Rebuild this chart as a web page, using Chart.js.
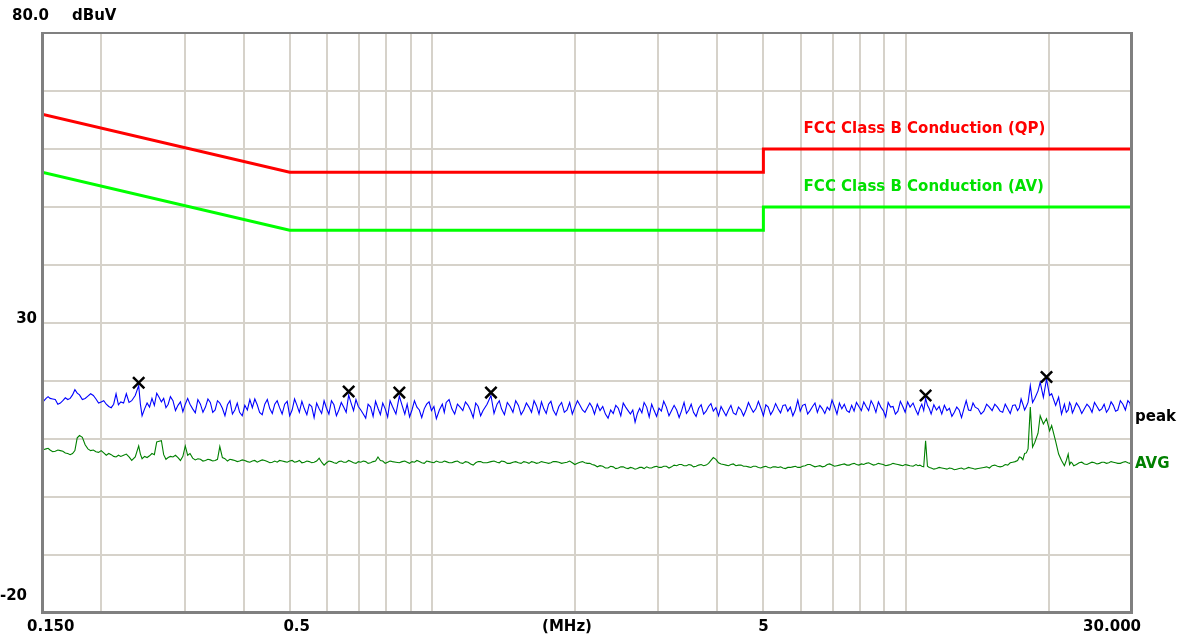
<!DOCTYPE html>
<html><head><meta charset="utf-8">
<script src="https://cdn.jsdelivr.net/npm/chart.js@4.4.1/dist/chart.umd.min.js"></script>
<style>html,body{margin:0;padding:0;background:#fff;}#wrap{width:1181px;height:639px;}</style>
</head><body><div id="wrap"><canvas id="c" width="1181" height="639"></canvas></div>
<script>
// ---- data (frequency in MHz, level in dBuV) ----
// main scan samples
const freqMHz = [
0.150,0.153,0.156,0.160,0.164,0.168,0.172,0.176,0.180,0.185,0.190,0.195,0.200,0.205,0.210,0.215,0.220,0.226,0.232,0.240,
0.244,0.250,0.256,0.262,0.268,0.274,0.280,0.287,0.294,0.301,0.308,0.316,0.324,0.332,0.340,0.348,0.356,0.365,0.374,0.383,
0.392,0.402,0.412,0.422,0.432,0.443,0.454,0.465,0.476,0.488,0.500,
0.512,0.524,0.537,0.550,0.563,0.577,0.591,0.605,0.620,0.635,0.650,0.666,0.682,0.698,0.715,0.732,0.750,0.768,0.786,0.805,
0.824,0.852,0.875,0.885,0.906,0.928,0.950,0.973,0.996,
1.02,1.05,1.07,1.10,1.13,1.16,1.19,1.22,1.25,1.28,1.33,1.37,1.40,1.44,1.48,1.52,1.56,1.60,1.64,1.68,1.72,
1.76,1.80,1.85,1.90,1.95,2.00,2.05,2.10,2.15,2.20,2.26,2.32,2.38,2.44,2.50,2.56,2.62,2.68,2.74,2.80,
2.87,2.94,3.01,3.08,3.16,3.24,3.32,3.40,3.48,3.56,3.65,3.74,3.83,3.92,4.02,4.12,4.22,4.32,4.43,4.54,
4.65,4.76,4.88,5.00,5.12,5.24,5.37,5.50,5.63,5.77,5.91,6.05,6.20,6.35,6.50,6.66,6.82,6.98,7.15,7.32,
7.50,7.68,7.86,8.05,8.24,8.44,8.64,8.85,9.06,9.28,9.50,9.73,9.96,
10.2,10.5,10.7,10.9,11.0,11.1,11.3,11.6,11.9,12.2,12.5,12.8,13.1,13.4,13.7,14.0,14.4,14.8,15.2,15.6,
16.0,16.4,16.8,17.2,17.5,17.8,18.1,18.3,18.5,18.7,19.0,19.2,19.5,19.8,20.1,20.3,20.7,21.0,21.3,21.6,
22.0,22.3,22.6,23.2,23.8,24.4,25.0,25.6,26.2,26.8,27.4,28.0,28.7,29.4,30.0
];
const peakDbuV = [
17.0,17.0,17.0,16.8,16.2,17.1,17.0,18.5,17.6,17.0,17.8,16.9,16.4,16.0,15.4,17.8,16.4,17.8,16.6,19.2,
14.0,16.2,17.0,17.9,16.4,15.4,17.3,14.9,16.4,16.0,16.0,14.5,16.0,15.5,16.3,15.0,16.2,14.0,16.6,15.0,
14.6,15.8,16.8,16.9,14.6,16.0,15.2,16.0,15.4,16.0,14.0,
16.9,14.6,15.2,16.0,13.7,15.2,16.6,14.3,15.9,15.0,15.5,17.6,14.9,15.6,14.3,16.0,13.9,15.3,16.2,13.8,
15.6,17.4,14.3,16.0,15.0,15.5,13.7,16.0,14.9,
13.5,16.0,16.3,15.2,16.0,14.9,15.8,13.7,15.6,14.9,17.5,16.0,15.2,16.3,14.6,15.8,15.0,15.5,16.6,14.3,15.2,
16.0,15.0,15.6,14.6,16.3,15.5,15.8,14.6,16.2,14.3,14.9,14.3,15.0,15.8,14.0,15.5,14.3,12.9,15.3,16.3,
13.8,14.9,15.3,16.5,14.0,15.8,13.7,16.3,15.0,14.6,15.3,14.3,15.6,14.8,14.0,14.8,15.0,14.5,15.5,14.0,
16.3,14.6,16.5,14.0,15.5,14.9,15.2,15.8,14.8,14.0,16.7,15.8,14.3,15.6,14.6,15.2,15.5,16.7,14.3,15.2,
14.9,15.8,16.3,14.9,15.6,16.6,14.6,15.5,13.8,15.5,14.3,16.5,14.6,
15.5,14.9,15.3,14.9,17.0,15.8,14.3,15.0,14.3,14.9,13.9,15.5,13.7,16.6,14.9,15.5,14.3,16.0,14.9,15.5,
14.6,15.2,15.8,14.9,16.9,15.0,16.3,19.2,16.3,17.0,18.3,19.8,17.2,20.3,17.5,17.8,15.8,17.2,14.3,16.0,
15.0,15.8,15.0,15.5,15.2,15.5,16.3,14.9,16.0,15.2,15.8,15.0,16.0,16.6,13.7
];
const avgDbuV = [
8.3,8.3,8.1,7.9,8.0,7.6,7.3,8.0,10.6,9.0,8.0,7.8,8.0,7.2,7.3,6.9,7.0,7.4,6.3,8.8,
6.6,6.8,7.5,9.5,9.7,6.5,7.0,7.2,6.3,8.8,7.5,6.4,6.5,6.3,6.4,6.3,8.7,6.6,6.5,6.3,
6.2,6.3,6.0,6.3,6.2,6.3,5.9,6.2,6.3,6.1,6.2,
6.0,6.3,6.0,6.1,6.0,6.7,5.5,6.2,5.9,6.1,6.0,6.3,5.9,6.1,6.2,5.8,6.1,6.9,6.2,6.0,
6.1,5.9,6.2,6.0,6.1,6.3,5.9,6.2,6.0,
6.2,6.0,6.1,5.9,6.2,5.8,6.0,5.5,6.1,5.9,6.1,6.0,6.2,5.8,6.0,5.9,6.1,5.8,6.0,5.9,6.0,
5.8,6.1,6.0,5.9,6.2,5.6,6.0,5.9,5.8,5.5,5.4,5.0,5.3,4.9,5.2,5.0,5.1,4.8,5.1,4.9,
5.0,5.2,5.1,5.3,5.0,5.5,5.6,5.4,5.6,5.2,5.5,5.4,5.8,6.8,5.9,5.6,5.4,5.7,5.5,5.3,
5.2,5.3,5.1,5.2,5.1,5.2,5.1,5.0,5.1,5.2,5.1,5.3,5.6,5.4,5.3,5.2,5.6,5.5,5.4,5.6,
5.5,5.7,5.6,5.7,5.8,5.7,5.6,5.7,5.4,5.6,5.7,5.5,5.6,
5.4,5.6,5.5,5.2,9.7,5.3,5.0,4.9,5.0,4.8,4.9,4.8,5.0,4.9,5.0,4.8,5.0,5.2,5.4,5.3,
5.3,5.5,6.0,6.3,6.8,7.5,8.3,15.5,8.6,9.4,11.0,14.0,12.6,13.5,11.4,12.3,9.6,7.4,6.3,5.4,
7.4,6.0,5.4,5.9,5.7,5.8,5.9,5.8,6.0,5.9,6.0,5.8,6.0,5.9,5.7
];
const freqMHzMid = [
0.1515,0.1545,0.158,0.162,0.166,0.170,0.174,0.178,0.1825,0.1875,0.1925,0.1975,0.2025,0.2075,0.2125,0.2175,0.223,0.229,0.236,0.242,
0.247,0.253,0.259,0.265,0.271,0.277,0.2835,0.2905,0.2975,0.3045,0.312,0.320,0.328,0.336,0.344,0.352,0.3605,0.3695,0.3785,0.3875,
0.397,0.407,0.417,0.427,0.4375,0.4485,0.4595,0.4705,0.482,0.494,
0.506,0.518,0.5305,0.5435,0.5565,0.570,0.584,0.598,0.6125,0.6275,0.6425,0.658,0.674,0.690,0.7065,0.7235,0.741,0.759,0.777,0.7955,
0.8145,0.838,0.8635,0.8955,0.917,0.939,0.9615,0.9845,1.008,
1.035,1.06,1.085,1.115,1.145,1.175,1.205,1.235,1.265,1.305,1.35,1.385,1.42,1.46,1.50,1.54,1.58,1.62,1.66,1.70,
1.74,1.78,1.825,1.875,1.925,1.975,2.025,2.075,2.125,2.175,2.23,2.29,2.35,2.41,2.47,2.53,2.59,2.65,2.71,2.77,
2.835,2.905,2.975,3.045,3.12,3.20,3.28,3.36,3.44,3.52,3.605,3.695,3.785,3.875,3.97,4.07,4.17,4.27,4.375,4.485,
4.595,4.705,4.82,4.94,5.06,5.18,5.305,5.435,5.565,5.70,5.84,5.98,6.125,6.275,6.425,6.58,6.74,6.90,7.065,7.235,
7.41,7.59,7.77,7.955,8.145,8.34,8.54,8.745,8.955,9.17,9.39,9.615,9.845,10.08,
10.35,10.6,10.8,11.2,11.45,11.75,12.05,12.35,12.65,12.95,13.25,13.55,13.85,14.2,14.6,15.0,15.4,15.8,16.2,16.6,
17.0,17.35,17.65,17.95,21.8,22.15,22.45,22.9,23.5,24.1,24.7,25.3,25.9,26.5,27.1,27.7,28.35,29.05,29.7
];
const peakDbuVMid = [
16.6,17.3,16.9,16.0,16.6,16.8,17.6,17.9,16.8,17.4,17.5,16.2,16.6,15.6,16.0,15.9,16.2,16.3,17.5,16.0,
15.2,15.5,15.8,17.2,17.0,16.0,16.6,15.8,14.7,17.0,15.2,16.8,14.6,16.9,14.6,16.6,15.3,15.9,14.3,16.2,
14.0,15.0,15.4,15.9,14.2,16.8,14.4,16.6,14.3,16.5,
15.0,15.8,16.5,14.2,15.6,16.2,14.4,15.3,16.6,14.0,16.3,14.6,16.2,16.8,15.0,13.6,15.5,16.5,14.2,15.2,
16.6,14.3,15.8,13.8,16.6,15.0,15.2,16.4,15.6,
15.0,14.6,16.8,14.3,15.5,16.4,14.9,16.2,14.0,16.0,14.4,16.6,14.2,15.6,16.6,14.2,16.2,14.6,15.7,16.4,
14.4,16.5,14.1,16.3,15.0,14.3,16.6,15.0,15.4,15.5,16.0,15.6,13.6,14.4,15.3,16.2,14.9,15.0,14.4,14.5,
15.5,16.0,13.9,14.8,15.5,14.9,15.0,14.9,14.4,16.0,13.9,15.9,14.8,16.1,15.4,15.6,14.0,15.8,14.2,15.0,
15.0,15.4,15.2,15.3,15.9,14.2,16.1,14.5,15.9,15.5,15.0,14.8,16.0,14.9,16.2,15.8,14.4,15.0,15.6,16.2,
16.0,14.6,14.8,15.6,16.4,14.9,15.8,16.4,14.9,16.3,15.6,14.8,15.6,16.4,
16.2,14.2,16.0,15.2,15.9,15.6,15.8,15.3,14.6,15.0,15.2,15.0,16.2,15.2,14.8,15.5,16.0,14.8,16.0,14.4,
15.9,15.4,16.0,15.6,14.6,16.3,14.5,16.2,14.4,16.0,14.6,15.6,15.2,14.6,16.4,14.8,16.6,15.0,16.2
];
const avgDbuVMid = [
8.2,8.4,7.8,8.1,7.9,7.5,7.5,10.2,10.3,8.3,8.1,7.7,7.6,7.5,7.0,7.2,7.2,6.9,6.9,7.4,
7.0,7.1,7.3,9.6,7.3,6.8,6.9,6.8,7.0,7.2,6.7,6.6,6.2,6.5,6.2,6.5,6.8,6.2,6.4,6.1,
6.4,6.1,6.2,6.0,6.4,6.1,6.0,6.0,6.2,6.0,
6.3,6.1,5.9,6.2,5.9,6.2,6.0,5.9,6.1,5.8,6.2,6.0,6.1,5.8,6.0,6.1,5.9,6.2,6.3,5.8,
6.2,6.0,6.1,5.8,6.0,6.1,5.8,6.1,5.9,
6.0,6.2,5.9,6.1,5.9,6.1,5.7,5.9,6.1,5.9,6.2,5.9,6.1,5.8,6.1,5.8,6.0,6.1,5.8,6.1,
5.9,5.9,6.1,5.8,6.0,5.9,5.8,6.1,5.8,5.6,5.2,5.3,5.0,5.2,5.0,5.2,4.9,5.0,4.9,5.1,
5.2,5.0,5.3,5.1,5.3,5.2,5.4,5.6,5.4,5.5,5.3,5.6,5.5,6.3,6.5,5.7,5.5,5.6,5.4,5.5,
5.3,5.1,5.3,5.0,5.3,5.0,5.2,5.2,4.9,5.1,5.3,5.1,5.4,5.6,5.2,5.4,5.3,5.7,5.3,5.5,
5.7,5.5,5.8,5.5,5.6,5.9,5.5,5.8,5.6,5.5,5.8,5.6,5.4,5.5,
5.3,5.4,5.3,5.1,4.8,5.1,4.9,5.0,4.7,4.9,4.8,5.1,4.9,4.9,5.1,5.0,5.5,5.2,5.6,5.9,
6.1,6.9,6.4,7.6,6.3,5.6,5.8,5.6,6.0,5.6,6.0,5.7,6.0,5.8,6.1,5.9,5.8,6.1,5.8
];
const qpLimitFreq = [0.15, 0.5, 5, 5, 30];
const qpLimitDb   = [66, 56, 56, 60, 60];
const avLimitFreq = [0.15, 0.5, 5, 5, 30];
const avLimitDb   = [56, 46, 46, 50, 50];
const markerFreq = [0.240, 0.666, 0.852, 1.33, 11.0, 19.8];
const markerDb   = [19.7, 18.2, 18.0, 18.0, 17.5, 20.7];
const xGridFreq = [0.2,0.3,0.4,0.5,0.6,0.7,0.8,0.9,1,2,3,4,5,6,7,8,9,10,20];
const yGridDb = [-20,-10,0,10,20,30,40,50,60,70,80];
const xLabelFreq = [0.15, 0.5, 5, 30];
const xLabelText = ['0.150', '0.5', '5', '30.000'];
const yLabelDb = [80, 30, -20];
const yLabelText = ['80.0', '30', '-20'];
const yUnit = 'dBuV';
const xUnit = '(MHz)';
const qpName = 'FCC Class B Conduction (QP)';
const avName = 'FCC Class B Conduction (AV)';
const peakName = 'peak';
const avgName = 'AVG';

const pts = (xs, ys) => xs.map((v, i) => ({x: v, y: ys[i]}));
const merged = (fa, va, fb, vb) => pts(fa, va).concat(pts(fb, vb)).sort((p, q) => p.x - q.x);
const FONT = 'bold 15px "DejaVu Sans"';

const overlay = {
  id: 'overlay',
  afterDraw(chart) {
    const {ctx, chartArea: a, scales: {x, y}} = chart;
    ctx.save();
    // frame
    ctx.fillStyle = '#808080';
    ctx.fillRect(a.left - 1, a.top - 1, 3, a.bottom - a.top + 2);
    ctx.fillRect(a.right - 2, a.top - 1, 3, a.bottom - a.top + 2);
    ctx.fillRect(a.left - 1, a.top - 1, a.right - a.left + 1, 2);
    ctx.fillRect(a.left - 1, a.bottom - 2, a.right - a.left + 1, 3);
    ctx.font = FONT;
    ctx.textBaseline = 'middle';
    ctx.fillStyle = '#000';
    // y labels
    const yOff = [-17, -4, -17];
    const yAlign = ['left', 'right', 'right'];
    const yX = [12, 37, 27];
    yLabelDb.forEach((v, i) => {
      ctx.textAlign = yAlign[i];
      ctx.fillText(yLabelText[i], yX[i], y.getPixelForValue(v) + yOff[i]);
    });
    ctx.textAlign = 'left';
    ctx.fillText(yUnit, 72, y.getPixelForValue(80) - 17);
    // x labels
    const xDx = [-15, 7, 0, 9];
    const xAlign = ['left', 'center', 'center', 'right'];
    const ly = a.bottom + 14;
    xLabelFreq.forEach((f, i) => {
      ctx.textAlign = xAlign[i];
      ctx.fillText(xLabelText[i], x.getPixelForValue(f) + xDx[i], ly);
    });
    ctx.textAlign = 'center';
    ctx.fillText(xUnit, 567, ly);
    // limit names
    ctx.textAlign = 'left';
    ctx.fillStyle = '#ff0000';
    ctx.fillText(qpName, x.getPixelForValue(6.08), y.getPixelForValue(qpLimitDb[4]) - 20);
    ctx.fillStyle = '#00e000';
    ctx.fillText(avName, x.getPixelForValue(6.08), y.getPixelForValue(avLimitDb[4]) - 20);
    // trace names
    ctx.fillStyle = '#000';
    ctx.fillText(peakName, a.right + 3, y.getPixelForValue(peakDbuV[peakDbuV.length - 1]));
    ctx.fillStyle = '#008000';
    ctx.fillText(avgName, a.right + 3, y.getPixelForValue(avgDbuV[avgDbuV.length - 1]));
    ctx.restore();
  }
};

new Chart(document.getElementById('c'), {
  type: 'scatter',
  data: {
    datasets: [
      {data: pts(markerFreq, markerDb), showLine: false, pointStyle: 'crossRot', pointRadius: 8, borderColor: '#000', backgroundColor: '#000', pointBorderWidth: 2.5, order: 0},
      {data: pts(qpLimitFreq, qpLimitDb), showLine: true, borderColor: '#ff0000', borderWidth: 3, pointRadius: 0, tension: 0, order: 3},
      {data: pts(avLimitFreq, avLimitDb), showLine: true, borderColor: '#00ff00', borderWidth: 3, pointRadius: 0, tension: 0, order: 3},
      {data: merged(freqMHz, avgDbuV, freqMHzMid, avgDbuVMid), showLine: true, borderColor: '#008000', borderWidth: 1.1, pointRadius: 0, tension: 0, order: 2},
      {data: merged(freqMHz, peakDbuV, freqMHzMid, peakDbuVMid), showLine: true, borderColor: '#0000ff', borderWidth: 1.1, pointRadius: 0, tension: 0, order: 1}
    ]
  },
  options: {
    responsive: false,
    animation: false,
    devicePixelRatio: 1,
    layout: {padding: {left: 42, right: 49, top: 33, bottom: 26}},
    plugins: {legend: {display: false}, tooltip: {enabled: false}},
    scales: {
      x: {
        type: 'logarithmic', min: 0.15, max: 30,
        afterBuildTicks: s => { s.ticks = xGridFreq.map(v => ({value: v})); },
        ticks: {display: false},
        grid: {color: '#d6d2ca', lineWidth: 2, drawTicks: false},
        border: {display: false}
      },
      y: {
        type: 'linear', min: -20, max: 80,
        afterBuildTicks: s => { s.ticks = yGridDb.map(v => ({value: v})); },
        ticks: {display: false},
        grid: {color: '#d6d2ca', lineWidth: 2, drawTicks: false},
        border: {display: false}
      }
    }
  },
  plugins: [overlay]
});
</script>
</body></html>
